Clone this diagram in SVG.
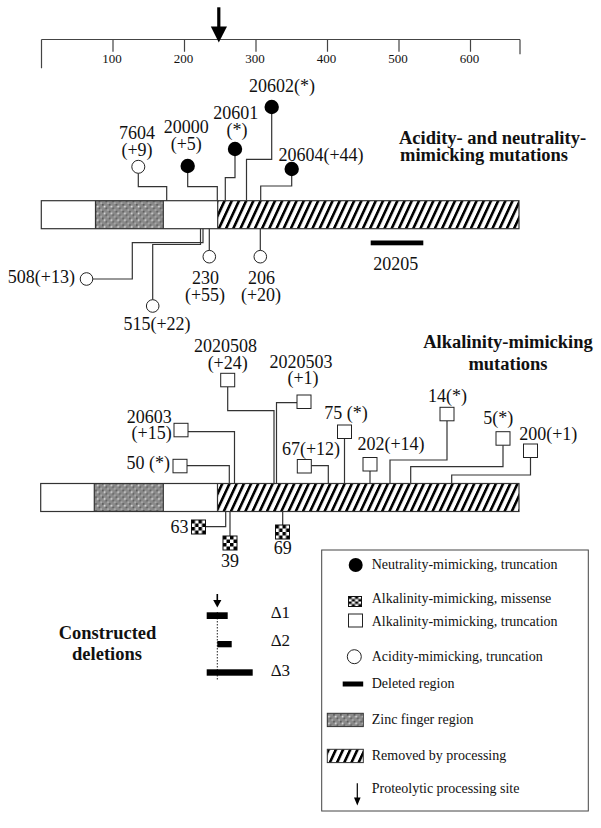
<svg xmlns="http://www.w3.org/2000/svg" width="601" height="828" viewBox="0 0 601 828">
<style>
.t{font-family:"Liberation Serif","Times New Roman",serif;font-size:18px;fill:#111}
.m{text-anchor:middle}
.e{text-anchor:end}
.b{font-weight:bold;font-size:18.5px}
.lg{font-size:14px}
.sc{font-size:13px;text-anchor:middle}
.ln{stroke:#333;stroke-width:1.2;fill:none}
.ax{stroke:#444;stroke-width:1.2;fill:none}
.oc{fill:#fff;stroke:#222;stroke-width:1}
.fc{fill:#000}
.sq{fill:#fff;stroke:#222;stroke-width:1}
.ms{fill:url(#chk);stroke:#111;stroke-width:1}
.bar{stroke:#333;stroke-width:1.2}
</style>
<defs>
<pattern id="hatch" patternUnits="userSpaceOnUse" width="7.2" height="10" patternTransform="skewX(-25)">
<rect width="7.2" height="10" fill="#fff"/>
<rect width="2.9" height="10" fill="#000"/>
</pattern>
<pattern id="zinc" patternUnits="userSpaceOnUse" width="6.8" height="6.8">
<rect width="6.8" height="6.8" fill="#8a8a8a"/>
<rect x="0" y="0" width="1.7" height="1.7" fill="#5a5a5a"/>
<rect x="3.4" y="3.4" width="1.7" height="1.7" fill="#5a5a5a"/>
<rect x="1.7" y="1.7" width="1.7" height="1.7" fill="#e2e2e2"/>
<rect x="5.1" y="5.1" width="1.7" height="1.7" fill="#b0b0b0"/>
</pattern>
<pattern id="chk" patternContentUnits="objectBoundingBox" width="1" height="1">
<rect width="1" height="1" fill="#fff"/>
<rect x="0" y="0" width="0.25" height="0.25" fill="#000"/>
<rect x="0.5" y="0" width="0.25" height="0.25" fill="#000"/>
<rect x="0.25" y="0.25" width="0.25" height="0.25" fill="#000"/>
<rect x="0.75" y="0.25" width="0.25" height="0.25" fill="#000"/>
<rect x="0" y="0.5" width="0.25" height="0.25" fill="#000"/>
<rect x="0.5" y="0.5" width="0.25" height="0.25" fill="#000"/>
<rect x="0.25" y="0.75" width="0.25" height="0.25" fill="#000"/>
<rect x="0.75" y="0.75" width="0.25" height="0.25" fill="#000"/>
</pattern>
</defs>
<rect width="601" height="828" fill="#fff"/>

<g id="scale">
<path class="ax" d="M41.5 39.5 H520 M41.5 39.5 V68.3 M520 39.5 V54.3 M113 39.5 V51.7 M184.5 39.5 V51.7 M256 39.5 V51.7 M327.5 39.5 V51.7 M399 39.5 V51.7 M470.5 39.5 V51.7"/>
<text class="t sc" x="112" y="63">100</text>
<text class="t sc" x="183.5" y="63">200</text>
<text class="t sc" x="255" y="63">300</text>
<text class="t sc" x="326.5" y="63">400</text>
<text class="t sc" x="398" y="63">500</text>
<text class="t sc" x="469.5" y="63">600</text>
<rect x="217.2" y="7.3" width="3.2" height="20" fill="#000"/>
<polygon points="210.8,26.5 227,26.5 218.8,42.5" fill="#000"/>
</g>

<g id="protein-upper">
<rect x="41.3" y="200.7" width="477.7" height="28" fill="#fff"/>
<rect x="95.5" y="200.7" width="67.8" height="28" fill="url(#zinc)"/>
<rect x="217.7" y="200.7" width="301.3" height="28" fill="url(#hatch)"/>
<rect x="41.3" y="200.7" width="477.7" height="28" fill="none" class="bar"/>
<path class="bar" d="M95.5 200.7 V228.7 M163.3 200.7 V228.7 M217.7 200.7 V228.7"/>
</g>

<g id="protein-lower">
<rect x="40.7" y="483.5" width="478.3" height="28" fill="#fff"/>
<rect x="94.3" y="483.5" width="69" height="28" fill="url(#zinc)"/>
<rect x="217.5" y="483.5" width="301.5" height="28" fill="url(#hatch)"/>
<rect x="40.7" y="483.5" width="478.3" height="28" fill="none" class="bar"/>
<path class="bar" d="M94.3 483.5 V511.5 M163.3 483.5 V511.5 M217.5 483.5 V511.5"/>
</g>

<g id="connectors">
<path class="ln" d="M138.3 173.3 V186.7 H166.7 V200.7"/>
<path class="ln" d="M187.7 173 V186.7 H217.3 V200.7"/>
<path class="ln" d="M235 156 V177.7 H225.3 V200.7"/>
<path class="ln" d="M271.7 114 V159.3 H246.5 V200.7"/>
<path class="ln" d="M291.7 176 V186 H260.7 V200.7"/>
<path class="ln" d="M203 228.7 V242.7 H132.3 V279 H92.8"/>
<path class="ln" d="M200.5 228.7 V244.5 H152.7 V299.7"/>
<path class="ln" d="M209.3 228.7 V250.4"/>
<path class="ln" d="M260.3 228.7 V250.4"/>
<path class="ln" d="M227.7 386.8 V410.7 H274 V483.5"/>
<path class="ln" d="M297 402.7 H276.5 V483.5"/>
<path class="ln" d="M188 431.7 H234.5 V483.5"/>
<path class="ln" d="M187 465.7 H229.3 V483.5"/>
<path class="ln" d="M311.3 465.7 H328.3 V483.5"/>
<path class="ln" d="M344.5 438.5 V483.5"/>
<path class="ln" d="M370 471 V483.5"/>
<path class="ln" d="M447 420.8 V460 H390 V483.5"/>
<path class="ln" d="M503 445.2 V466.7 H410.7 V483.5"/>
<path class="ln" d="M530.5 457.5 V475 H451.7 V483.5"/>
<path class="ln" d="M225.7 511.5 V526.7 H205.5"/>
<path class="ln" d="M230 511.5 V536"/>
<path class="ln" d="M282.7 511.5 V525"/>
</g>

<g id="m7604"><circle class="oc" cx="138.3" cy="166.8" r="6.5"/><text class="t m" x="137" y="138.5">7604</text><text class="t m" x="137" y="156">(+9)</text></g>
<g id="m20000"><circle class="fc" cx="187.7" cy="166" r="7.2"/><text class="t m" x="186.3" y="133">20000</text><text class="t m" x="186.3" y="150">(+5)</text></g>
<g id="m20601"><circle class="fc" cx="235" cy="149" r="7.2"/><text class="t m" x="235.8" y="119">20601</text><text class="t m" x="237" y="136">(*)</text></g>
<g id="m20602"><circle class="fc" cx="271.7" cy="107" r="7.2"/><text class="t m" x="282" y="92">20602(*)</text></g>
<g id="m20604"><circle class="fc" cx="291.7" cy="169" r="7.2"/><text class="t m" x="321" y="160.5">20604(+44)</text></g>
<g id="title-acid"><text class="t b" x="399" y="144">Acidity- and neutrality-</text><text class="t b" x="400" y="161">mimicking mutations</text></g>
<g id="m508"><circle class="oc" cx="86.5" cy="279" r="6.3"/><text class="t e" x="75" y="283">508(+13)</text></g>
<g id="m515"><circle class="oc" cx="152.7" cy="306" r="6.3"/><text class="t m" x="157" y="330">515(+22)</text></g>
<g id="m230"><circle class="oc" cx="209.3" cy="256.7" r="6.3"/><text class="t m" x="205.5" y="284">230</text><text class="t m" x="205" y="300.5">(+55)</text></g>
<g id="m206"><circle class="oc" cx="260.3" cy="256.7" r="6.3"/><text class="t m" x="261.5" y="284">206</text><text class="t m" x="261" y="300.5">(+20)</text></g>
<g id="d20205"><rect x="370.7" y="240.5" width="52.6" height="4.8" fill="#000"/><text class="t m" x="395.7" y="269.5">20205</text></g>

<g id="title-alk"><text class="t b m" x="508" y="347.5">Alkalinity-mimicking</text><text class="t b m" x="508" y="369.5">mutations</text></g>
<g id="m2020508"><rect class="sq" x="220.7" y="373.3" width="14" height="13.5"/><text class="t m" x="225.5" y="352">2020508</text><text class="t m" x="227.7" y="369">(+24)</text></g>
<g id="m2020503"><rect class="sq" x="297" y="395" width="14" height="13.5"/><text class="t m" x="301" y="367.5">2020503</text><text class="t m" x="303" y="384">(+1)</text></g>
<g id="m20603"><rect class="sq" x="174" y="423.3" width="14" height="13.5"/><text class="t e" x="171.7" y="422.5">20603</text><text class="t e" x="171.7" y="438.5">(+15)</text></g>
<g id="m50"><rect class="sq" x="173" y="459.3" width="14" height="13.5"/><text class="t e" x="170" y="468.5">50 (*)</text></g>
<g id="m67"><rect class="sq" x="297.3" y="459.5" width="14" height="13.5"/><text class="t m" x="311" y="455">67(+12)</text></g>
<g id="m75"><rect class="sq" x="337.5" y="425" width="14" height="13.5"/><text class="t m" x="346" y="418.5">75 (*)</text></g>
<g id="m202"><rect class="sq" x="363" y="457.5" width="14" height="13.5"/><text class="t m" x="391" y="449.5">202(+14)</text></g>
<g id="m14"><rect class="sq" x="440" y="407.3" width="14" height="13.5"/><text class="t m" x="447.5" y="401.5">14(*)</text></g>
<g id="m5"><rect class="sq" x="496" y="431.7" width="14" height="13.5"/><text class="t m" x="498.3" y="423.5">5(*)</text></g>
<g id="m200"><rect class="sq" x="523.5" y="444" width="14" height="13.5"/><text class="t m" x="548.3" y="440">200(+1)</text></g>
<g id="m63"><rect class="ms" x="191.5" y="520" width="14" height="14"/><text class="t e" x="188.5" y="532.5">63</text></g>
<g id="m39"><rect class="ms" x="223" y="536" width="14" height="14"/><text class="t m" x="230" y="567">39</text></g>
<g id="m69"><rect class="ms" x="275.5" y="525" width="14" height="14"/><text class="t m" x="282.7" y="554">69</text></g>

<g id="deletions">
<text class="t b m" x="107.5" y="639">Constructed</text>
<text class="t b m" x="107" y="660">deletions</text>
<rect x="216.5" y="594" width="1.6" height="7" fill="#000"/>
<polygon points="213.2,600 221.4,600 217.3,607.5" fill="#000"/>
<path d="M217.3 612 V680" stroke="#222" stroke-width="1" stroke-dasharray="1.5 1.5" fill="none"/>
<rect x="206.7" y="612.3" width="21" height="6.7" fill="#000"/>
<rect x="217.3" y="641" width="14.4" height="6.3" fill="#000"/>
<rect x="206.7" y="669.3" width="46" height="6.4" fill="#000"/>
<text class="t" style="font-size:17px" x="270.7" y="618">Δ1</text>
<text class="t" style="font-size:17px" x="270.7" y="646">Δ2</text>
<text class="t" style="font-size:17px" x="270.7" y="676">Δ3</text>
</g>

<g id="legend">
<rect x="321.7" y="550" width="266.6" height="261" fill="none" stroke="#444" stroke-width="1"/>
<circle class="fc" cx="355.7" cy="565" r="7"/>
<text class="t lg" x="371.7" y="569">Neutrality-mimicking, truncation</text>
<rect class="ms" x="348.5" y="596.5" width="13" height="10"/>
<text class="t lg" x="371.7" y="603">Alkalinity-mimicking, missense</text>
<rect class="sq" x="348.5" y="614" width="14" height="13"/>
<text class="t lg" x="371.7" y="625.5">Alkalinity-mimicking, truncation</text>
<circle class="oc" cx="354.3" cy="656.7" r="7"/>
<text class="t lg" x="371.7" y="661">Acidity-mimicking, truncation</text>
<rect x="342.7" y="681.5" width="20.5" height="5" fill="#000"/>
<text class="t lg" x="371.7" y="688">Deleted region</text>
<rect x="327.3" y="713.3" width="36" height="13.3" fill="url(#zinc)" stroke="#333" stroke-width="1"/>
<text class="t lg" x="371.7" y="724.3">Zinc finger region</text>
<rect x="327.3" y="749.3" width="36" height="13.3" fill="url(#hatch)" stroke="#333" stroke-width="1"/>
<text class="t lg" x="371.7" y="759.5">Removed by processing</text>
<path d="M357.3 783.3 V799" stroke="#000" stroke-width="1.2"/>
<polygon points="354,797.5 360.6,797.5 357.3,805.5" fill="#000"/>
<text class="t lg" x="371.7" y="792.6">Proteolytic processing site</text>
</g>
</svg>
